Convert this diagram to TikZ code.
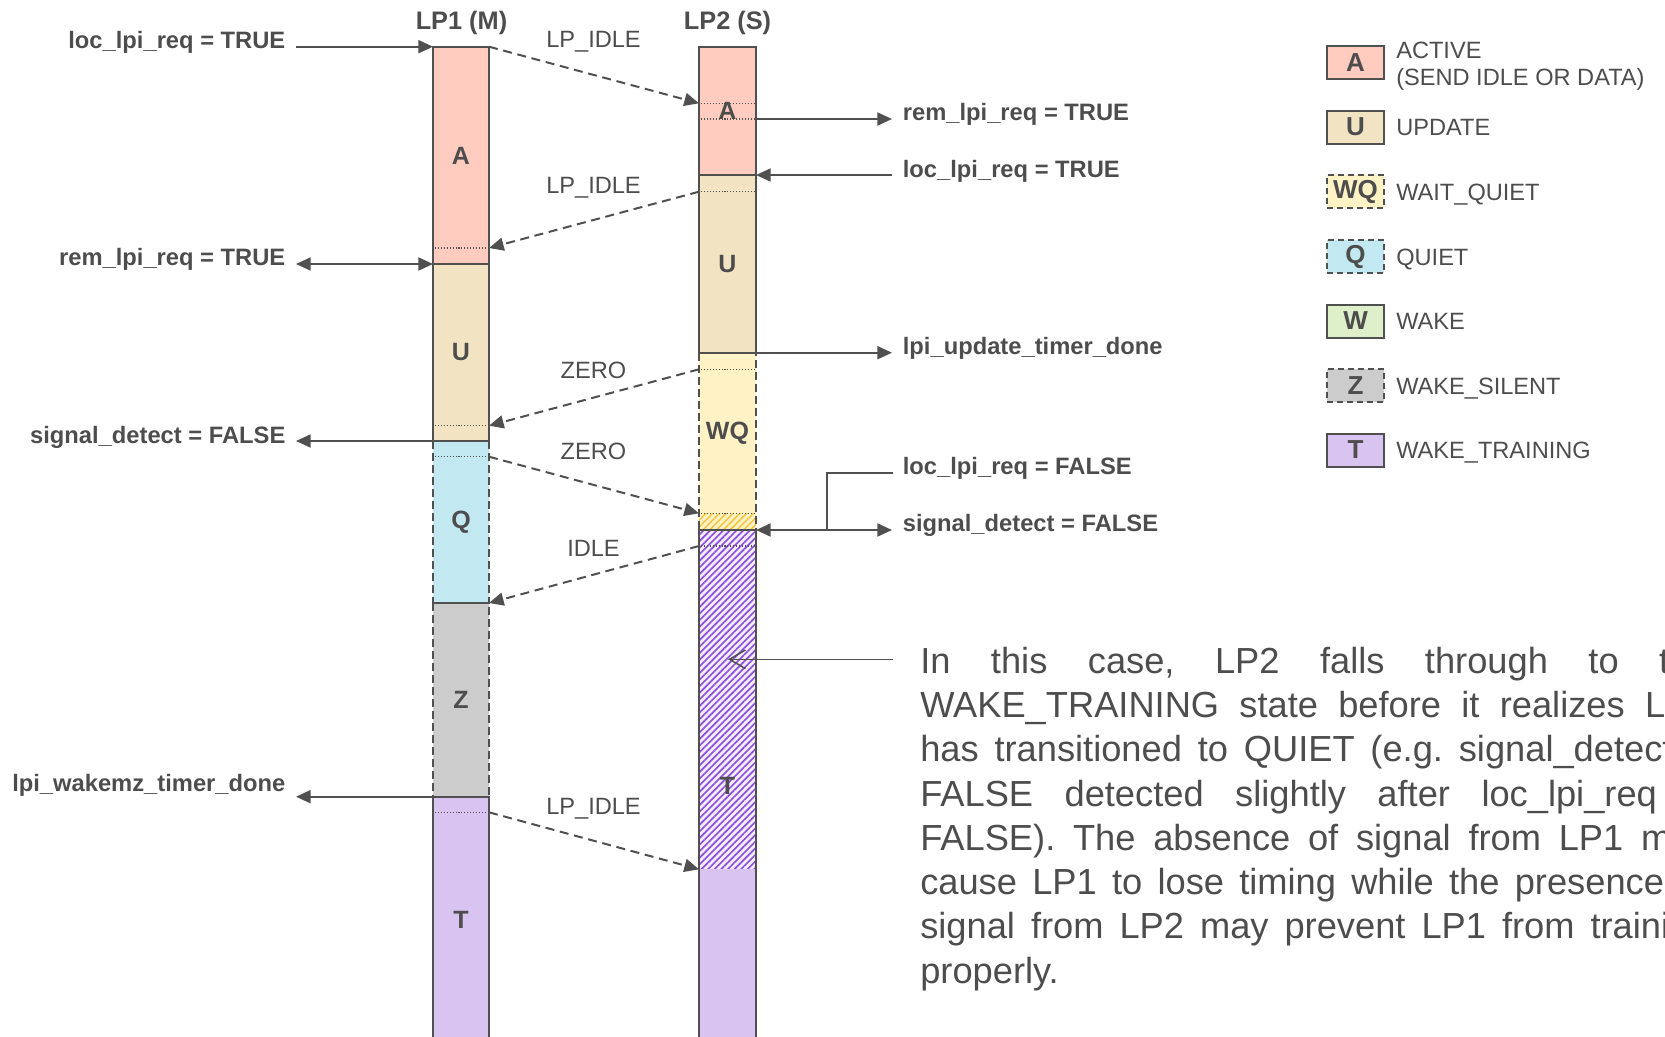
\documentclass[tikz,border=0pt]{standalone}
\usepackage{fontspec}
\setmainfont{Liberation Sans}
\usetikzlibrary{arrows.meta,patterns.meta}

\definecolor{lc}{HTML}{505050}
\definecolor{tc}{HTML}{4D4D4D}
\definecolor{cA}{HTML}{FFCCBF}
\definecolor{cU}{HTML}{F2E4C3}
\definecolor{cWQ}{HTML}{FFF2C4}
\definecolor{cQ}{HTML}{C2E9F2}
\definecolor{cW}{HTML}{DDF0CA}
\definecolor{cZ}{HTML}{CCCCCC}
\definecolor{cT}{HTML}{D9C3F0}
\definecolor{hatchT}{HTML}{8C4FDC}
\definecolor{hatchWQ}{HTML}{F5C540}
\definecolor{bgT}{HTML}{F4EDFD}

% width of the justified note paragraph; each line is spread to full width
\newlength{\notewd}
\setlength{\notewd}{592pt}
\newcommand{\jline}[1]{\makebox[\notewd][s]{\spaceskip=0pt\xspaceskip=0pt\frenchspacing #1}}

\begin{document}
\begin{tikzpicture}[x=0.75pt,y=-0.75pt,
  seg/.style={draw=lc, line width=1.5pt},
  dseg/.style={draw=lc, line width=1.5pt, dash pattern=on 6pt off 3pt},
  dotln/.style={draw=lc, line width=0.8pt, dash pattern=on 0.8pt off 1.4pt},
  sig/.style={draw=lc, line width=1.5pt, -{Triangle[length=11pt,width=9.75pt]}},
  sigboth/.style={draw=lc, line width=1.5pt, {Triangle[length=11pt,width=9.75pt]}-{Triangle[length=11pt,width=9.75pt]}},
  msg/.style={sig, dash pattern=on 6.75pt off 4.25pt},
  plain/.style={draw=lc, line width=1.5pt},
  sname/.style={font=\bfseries\fontsize{18.75pt}{21pt}\selectfont, text=tc, inner sep=0},
  title/.style={font=\bfseries\fontsize{19pt}{21pt}\selectfont, text=tc, inner sep=0, anchor=base},
  evlbl/.style={font=\bfseries\fontsize{17.8pt}{21pt}\selectfont, text=tc, inner sep=0},
  msglbl/.style={font=\fontsize{17.7pt}{21pt}\selectfont, text=tc, inner sep=0, anchor=base},
  legbox/.style={seg, minimum width=42.75pt, minimum height=24.75pt, inner sep=0,
                 font=\bfseries\fontsize{19.5pt}{21pt}\selectfont, text=tc},
  dlegbox/.style={legbox, dash pattern=on 4.5pt off 3pt},
  legtxt/.style={font=\fontsize{17.7pt}{20pt}\selectfont, text=tc, inner sep=0, anchor=base west},
]
\clip (0,0) rectangle (1665,1036);

% ---------- LP1 (M) state column ----------
\fill[cA] (433,46.7) rectangle (489,264);
\fill[cU] (433,264) rectangle (489,441);
\fill[cQ] (433,441) rectangle (489,603);
\fill[cZ] (433,603) rectangle (489,797);
\fill[cT] (433,797) rectangle (489,1045);
\draw[dotln] (435,248) -- (487,248);
\draw[dotln] (435,425.7) -- (487,425.7);
\draw[dotln] (435,456.7) -- (487,456.7);
\draw[dotln] (435,812.3) -- (487,812.3);
\draw[dseg] (433,441) rectangle (489,603);
\draw[dseg] (433,603) rectangle (489,797);
\draw[seg] (433,46.7) rectangle (489,264);
\draw[seg] (433,264) rectangle (489,441);
\draw[seg] (433,797) rectangle (489,1045);

% ---------- LP2 (S) state column ----------
\fill[cA] (699,46.7) rectangle (756,175);
\fill[cU] (699,175) rectangle (756,352.7);
\fill[cWQ] (699,352.7) rectangle (756,530);
\fill[pattern={Lines[angle=45,distance=3.6pt,line width=1.1pt]}, pattern color=hatchWQ]
  (699,513.3) rectangle (756,530);
\fill[bgT] (699,530) rectangle (756,869.3);
\fill[pattern={Lines[angle=45,distance=3.5pt,line width=1.25pt]}, pattern color=hatchT]
  (699,530) rectangle (756,869.3);
\fill[cT] (699,869.3) rectangle (756,1045);
\draw[dotln] (701,103.3) -- (754,103.3);
\draw[dotln] (701,119) -- (754,119);
\draw[dotln] (701,191.7) -- (754,191.7);
\draw[dotln] (701,369.3) -- (754,369.3);
\draw[dotln] (701,513.3) -- (754,513.3);
\draw[dotln] (701,546) -- (754,546);
\draw[dseg] (699,352.7) rectangle (756,530);
\draw[seg] (699,46.7) rectangle (756,175);
\draw[seg] (699,175) rectangle (756,352.7);
\draw[seg] (699,530) rectangle (756,1045);

% ---------- column titles and state names ----------
\node[title] (t1) at (461.5,29) {LP1 (M)};
\node[title] (t2) at (727.5,29) {LP2 (S)};
\node[sname] (p1A) at (461,155.5) {A};
\node[sname] (p1U) at (461,352.5) {U};
\node[sname] (p1Q) at (461,522) {Q};
\node[sname] (p1Z) at (461,700) {Z};
\node[sname] (p1T) at (461,919.5) {T};
\node[sname] (p2A) at (727.5,111) {A};
\node[sname] (p2U) at (727.5,264) {U};
\node[sname] (p2WQ) at (727.5,433) {WQ};
\node[sname] (p2T) at (727.5,785.5) {T};

% ---------- connection points ----------
\coordinate (a1) at (433,46.7);   \coordinate (a1o) at (296,46.7);
\coordinate (a2) at (433,264);    \coordinate (a2o) at (296,264);
\coordinate (a3) at (433,441);    \coordinate (a3o) at (296,441);
\coordinate (a4) at (433,796.7);  \coordinate (a4o) at (296,796.7);
\coordinate (b1) at (756,119);    \coordinate (b1o) at (892,119);
\coordinate (b2) at (756,175);    \coordinate (b2o) at (892,175);
\coordinate (b3) at (756,352.7);  \coordinate (b3o) at (892,352.7);
\coordinate (b4) at (756,530);    \coordinate (b4o) at (892,530);
\coordinate (b5) at (892.7,473);  \coordinate (bj) at (826.7,530);
\coordinate (nT) at (728,659.3);  \coordinate (nTo) at (893,659.3);

\coordinate (m1s) at (489,46.7);   \coordinate (m1e) at (699,103.3);
\coordinate (m2s) at (699,191.7);  \coordinate (m2e) at (489,248);
\coordinate (m3s) at (699,369.3);  \coordinate (m3e) at (489,425.7);
\coordinate (m4s) at (489,456.7);  \coordinate (m4e) at (699,513.3);
\coordinate (m5s) at (699,546);    \coordinate (m5e) at (489,603);
\coordinate (m6s) at (489,812.3);  \coordinate (m6e) at (699,869.3);

% ---------- signalled messages between the link partners ----------
\draw[msg] (m1s) -- (m1e);
\draw[msg] (m2s) -- (m2e);
\draw[msg] (m3s) -- (m3e);
\draw[msg] (m4s) -- (m4e);
\draw[msg] (m5s) -- (m5e);
\draw[msg] (m6s) -- (m6e);
\node[msglbl] (ml1) at (593.5,47.8) {LP\_IDLE};
\node[msglbl] (ml2) at (593.5,193.3) {LP\_IDLE};
\node[msglbl] (ml3) at (593.5,378.2) {ZERO};
\node[msglbl] (ml4) at (593.5,459.8) {ZERO};
\node[msglbl] (ml5) at (593.5,556.5) {IDLE};
\node[msglbl] (ml6) at (593.5,814.5) {LP\_IDLE};

% ---------- LP1 events ----------
\draw[sig] (a1o) -- (a1);
\draw[sigboth] (a2o) -- (a2);
\draw[sig] (a3) -- (a3o);
\draw[sig] (a4) -- (a4o);
\node[evlbl, anchor=base east] (e1) at (285.6,48.3) {loc\_lpi\_req = TRUE};
\node[evlbl, anchor=base east] (e2) at (285.6,265.5) {rem\_lpi\_req = TRUE};
\node[evlbl, anchor=base east] (e3) at (285.6,443.8) {signal\_detect = FALSE};
\node[evlbl, anchor=base east] (e4) at (285.6,791) {lpi\_wakemz\_timer\_done};

% ---------- LP2 events ----------
\draw[sig] (b1) -- (b1o);
\draw[sig] (b2o) -- (b2);
\draw[sig] (b3) -- (b3o);
\draw[sigboth] (b4) -- (b4o);
\draw[plain] (b5) -| (bj);
\node[evlbl, anchor=base west] (f1) at (902.6,120.3) {rem\_lpi\_req = TRUE};
\node[evlbl, anchor=base west] (f2) at (902.6,177.5) {loc\_lpi\_req = TRUE};
\node[evlbl, anchor=base west] (f3) at (902.6,354.6) {lpi\_update\_timer\_done};
\node[evlbl, anchor=base west] (f4) at (902.6,474.6) {loc\_lpi\_req = FALSE};
\node[evlbl, anchor=base west] (f5) at (902.6,531) {signal\_detect = FALSE};

% ---------- note on the early WAKE_TRAINING entry ----------
\draw[draw=lc, line width=1.1pt, -{Straight Barb[length=12pt,width=14pt,line width=1.1pt]}] (nTo) -- (nT);
\node[font=\fontsize{27.2pt}{33.2pt}\selectfont, text=tc, text width=592pt, align=left,
      inner sep=0, anchor=base west] (note) at (920,673.3)
  {\jline{In this case, LP2 falls through to the}\\
   \jline{WAKE\_TRAINING state before it realizes LP1}\\
   \jline{has transitioned to QUIET (e.g. signal\_detect =}\\
   \jline{FALSE detected slightly after loc\_lpi\_req =}\\
   \jline{FALSE). The absence of signal from LP1 may}\\
   \jline{cause LP1 to lose timing while the presence of}\\
   \jline{signal from LP2 may prevent LP1 from training}\\
   properly.};

% ---------- legend ----------
\node[legbox, fill=cA] (kA) at (1355.5,62.7) {A};
\node[legbox, fill=cU] (kU) at (1355.5,127) {U};
\node[dlegbox, fill=cWQ] (kWQ) at (1355.5,191.7) {WQ};
\node[dlegbox, fill=cQ] (kQ) at (1355.5,256.5) {Q};
\node[legbox, fill=cW] (kW) at (1355.5,321) {W};
\node[dlegbox, fill=cZ] (kZ) at (1355.5,385.5) {Z};
\node[legbox, fill=cT] (kT) at (1355.5,450) {T};
\node[legtxt] (dA1) at (1396,58.4) {ACTIVE};
\node[legtxt] (dA2) at (1396,85.2) {(SEND IDLE OR DATA)};
\node[legtxt] (dU) at (1396,135.5) {UPDATE};
\node[legtxt] (dWQ) at (1396,200.2) {WAIT\_QUIET};
\node[legtxt] (dQ) at (1396,265) {QUIET};
\node[legtxt] (dW) at (1396,329.5) {WAKE};
\node[legtxt] (dZ) at (1396,394) {WAKE\_SILENT};
\node[legtxt] (dT) at (1396,458.5) {WAKE\_TRAINING};
\end{tikzpicture}
\end{document}
